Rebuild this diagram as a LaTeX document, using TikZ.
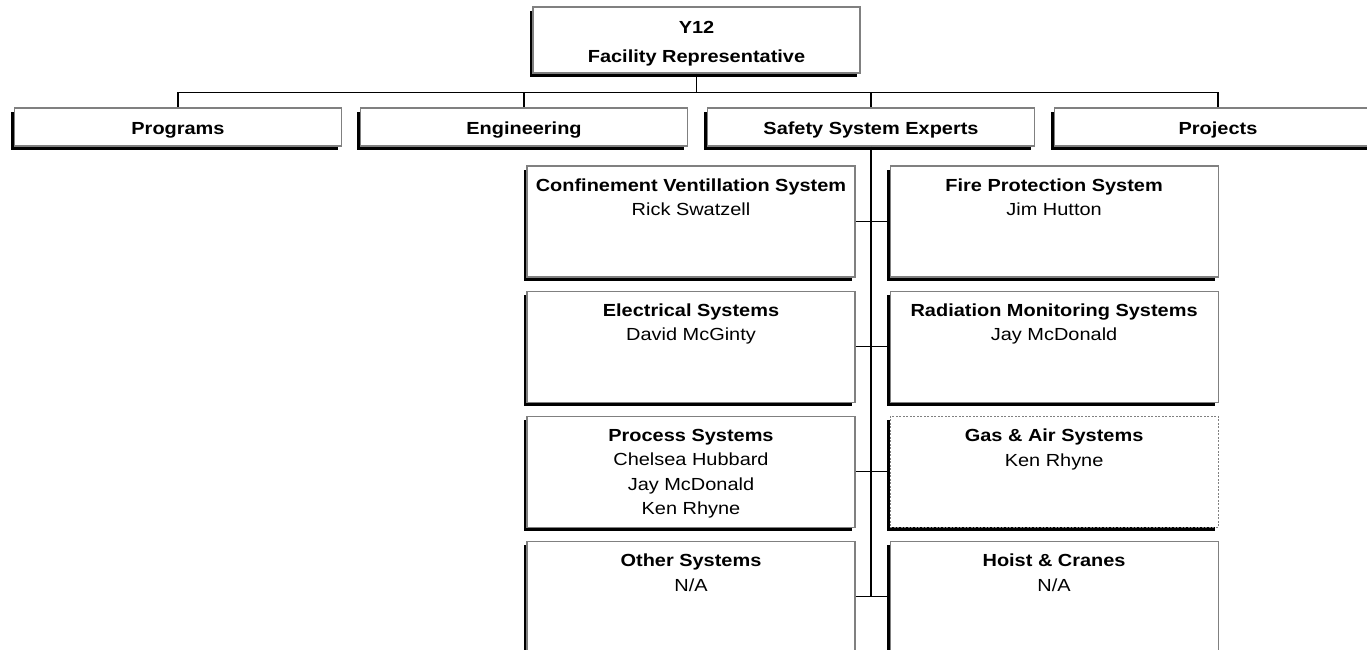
\documentclass[tikz,border=0pt]{standalone}
\usepackage{fontspec}
\setmainfont{Liberation Sans}[FakeStretch=1.14]
\usetikzlibrary{positioning,shadows}
\newcommand{\orgfont}{\fontsize{17.5}{24.5}\selectfont}

\begin{document}
\begin{tikzpicture}[
    x=1pt, y=-1pt,
    box/.style={rectangle, draw=black!50, line width=1.1pt, fill=white, inner sep=0pt, align=center, font=\orgfont\bfseries,
        general shadow={fill=black, shadow xshift=-3.5pt, shadow yshift=-3.5pt}},
    headbox/.style={box, minimum width=327pt, minimum height=66pt},
    deptbox/.style={box, minimum width=327pt, minimum height=38pt, text height=17pt, text depth=2.7pt},
    sysbox/.style={box, minimum width=328pt, minimum height=111pt},
    draftbox/.style={sysbox, dash pattern=on 2pt off 1.5pt},
    systext/.style={align=center, inner sep=0pt, font=\orgfont, execute at begin node=\strut},
    conn/.style={draw=black, line width=1.1pt},
    trunk/.style={draw=black, line width=2pt}
]
    \useasboundingbox (0,0) rectangle (1367,649);
    \clip (0,0) rectangle (1367,649);

    % Top
    \node[headbox] (fr) at (696.5,40) {\rule{0pt}{20pt}Y12\\[4pt]Facility Representative};

    % Departments
    \node[deptbox] (prog) at (178,127) {Programs};
    \node[deptbox] (eng) at (524,127) {Engineering};
    \node[deptbox] (sse) at (871,127) {Safety System Experts};
    \node[deptbox] (proj) at (1218,127) {Projects};

    % Safety systems
    \node[sysbox] (cvs) at (691,221.5) {};
    \node[sysbox, right=34pt of cvs] (fps) {};
    \node[sysbox, below=13pt of cvs] (els) {};
    \node[sysbox, below=13pt of fps] (rms) {};
    \node[sysbox, below=13pt of els] (pcs) {};
    \node[draftbox, below=13pt of rms] (gas) {};
    \node[sysbox, below=13pt of pcs] (oth) {};
    \node[sysbox, below=13pt of gas] (hoi) {};

    \node[systext, below=13pt of cvs.north] (cvst) {\textbf{Confinement Ventillation System}\\Rick Swatzell};
    \node[systext, below=13pt of fps.north] (fpst) {\textbf{Fire Protection System}\\Jim Hutton};
    \node[systext, below=13pt of els.north] (elst) {\textbf{Electrical Systems}\\David McGinty};
    \node[systext, below=13pt of rms.north] (rmst) {\textbf{Radiation Monitoring Systems}\\Jay McDonald};
    \node[systext, below=13pt of pcs.north] (pcst) {\textbf{Process Systems}\\Chelsea Hubbard\\Jay McDonald\\Ken Rhyne};
    \node[systext, below=13pt of gas.north] (gast) {\textbf{Gas \& Air Systems}\\Ken Rhyne};
    \node[systext, below=13pt of oth.north] (otht) {\textbf{Other Systems}\\N/A};
    \node[systext, below=13pt of hoi.north] (hoit) {\textbf{Hoist \& Cranes}\\N/A};

    % Edges
    \coordinate (bus) at (696.5,92.7);
    \coordinate (trunkend) at (871,596);
    \draw[conn] (fr.south) -- (bus);
    \draw[conn] (bus) -| (prog.north);
    \draw[conn] (bus) -| (eng.north);
    \draw[conn] (bus) -| (sse.north);
    \draw[conn] (bus) -| (proj.north);
    \draw[trunk] (sse.south) -- (trunkend);
    \draw[conn] (cvs.east) -- (fps.west);
    \draw[conn] (els.east) -- (rms.west);
    \draw[conn] (pcs.east) -- (gas.west);
    \draw[conn] (oth.east) -- (hoi.west);
\end{tikzpicture}
\end{document}
